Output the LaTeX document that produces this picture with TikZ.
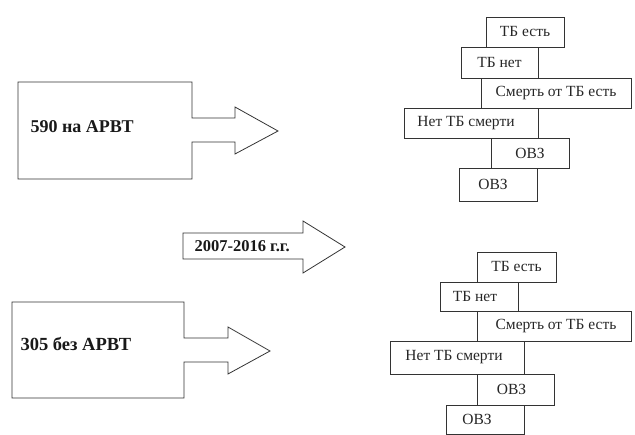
\documentclass[tikz,border=0pt]{standalone}
\usepackage{fontspec}
\setmainfont{Liberation Serif}
\begin{document}
\begin{tikzpicture}[x=1pt,y=-1pt,
  outl/.style={draw=black!80,line width=0.8pt,line join=miter},
  lbl/.style={font=\fontsize{15.5}{17}\selectfont,text=black!85},
  big/.style={font=\fontsize{18}{20}\selectfont\bfseries,text=black!90,anchor=west}]
\useasboundingbox (0,0) rectangle (635,435);
% top-left block arrow
\draw[outl] (18,82) -- (192,82) -- (192,118) -- (235,118) -- (235,107) -- (278,131)
  -- (235,154) -- (235,142) -- (192,142) -- (192,179) -- (18,179) -- cycle;
\node[big] (a590) at (27,127) {590 на АРВТ};
% middle arrow
\draw[outl] (183,233) -- (303,233) -- (303,221) -- (345,247) -- (303,273) -- (303,259)
  -- (183,259) -- cycle;
\node[big,font=\fontsize{16.5}{18}\selectfont\bfseries] (yrs) at (191,246) {2007-2016 г.г.};
% bottom-left block arrow
\draw[outl] (12,302) -- (184,302) -- (184,338) -- (228,338) -- (228,327) -- (270,351)
  -- (228,374) -- (228,362) -- (184,362) -- (184,398) -- (12,398) -- cycle;
\node[big,font=\fontsize{18.5}{20}\selectfont\bfseries] (a305) at (17,344) {305 без АРВТ};
% top-right boxes
\draw[outl] (486,17) rectangle (564,47) node[midway,lbl] (t1) {ТБ есть};
\draw[outl] (461,47) rectangle (538,78) node[midway,lbl] (t2) {ТБ нет};
\draw[outl] (481,78) rectangle (631,108) node[midway,lbl] (t3) {Смерть от ТБ есть};
\draw[outl] (404,108) rectangle (538,138) node[midway,lbl,xshift=-5pt] (t4) {Нет ТБ смерти};
\draw[outl] (491,138) rectangle (569,168) node[midway,lbl] (t5) {ОВЗ};
\draw[outl] (459,168) rectangle (537,201) node[midway,lbl,xshift=-5pt] (t6) {ОВЗ};
% bottom-right boxes
\draw[outl] (477,252) rectangle (556,282) node[midway,lbl] (b1) {ТБ есть};
\draw[outl] (440,282) rectangle (518,311) node[midway,lbl,xshift=-4pt] (b2) {ТБ нет};
\draw[outl] (477,311) rectangle (631,341) node[midway,lbl,xshift=2pt] (b3) {Смерть от ТБ есть};
\draw[outl] (390,341) rectangle (524,374) node[midway,lbl,xshift=-3pt] (b4) {Нет ТБ смерти};
\draw[outl] (477,374) rectangle (554,405) node[midway,lbl,xshift=-4pt] (b5) {ОВЗ};
\draw[outl] (446,405) rectangle (524,434) node[midway,lbl,xshift=-8pt] (b6) {ОВЗ};
\end{tikzpicture}
\end{document}
